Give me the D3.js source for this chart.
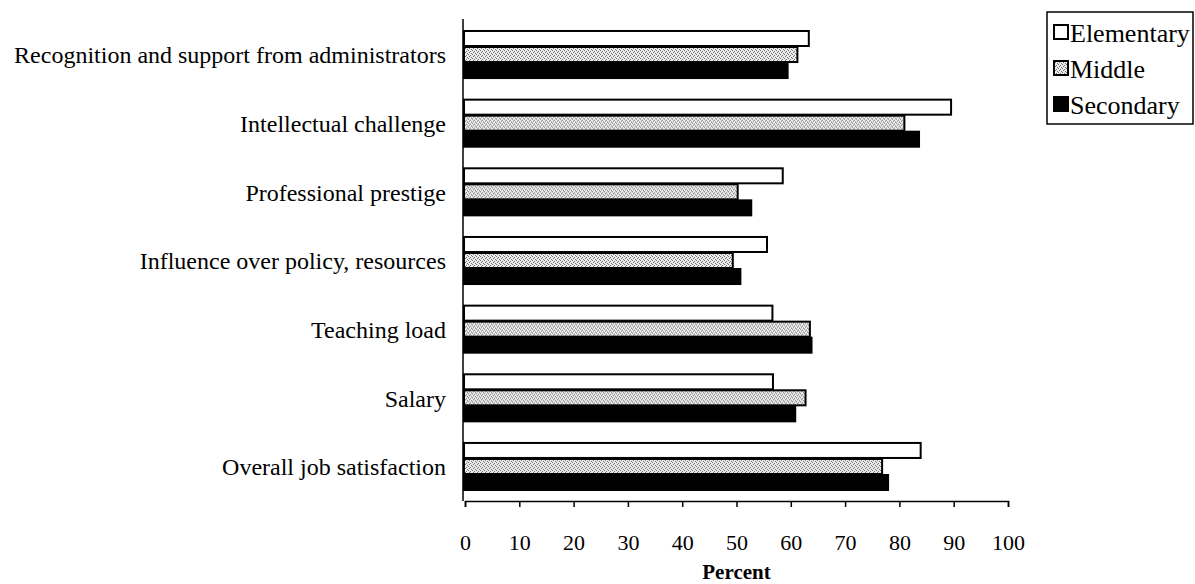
<!DOCTYPE html>
<html>
<head>
<meta charset="utf-8">
<script src="https://cdn.jsdelivr.net/npm/d3@7"></script>
<style>
  body { margin: 0; background: #fff; }
  svg { display: block; font-family: "Liberation Serif", "Times New Roman", serif; }
</style>
</head>
<body>
<div class="chart-area"></div>
<script>
const categories = [
  "Recognition and support from administrators",
  "Intellectual challenge",
  "Professional prestige",
  "Influence over policy, resources",
  "Teaching load",
  "Salary",
  "Overall job satisfaction"
];
const seriesNames = ["Elementary", "Middle", "Secondary"];
const elementary = [63.5, 89.7, 58.7, 55.8, 56.8, 56.9, 84.1];
const middle     = [61.4, 81.1, 50.4, 49.5, 63.7, 62.9, 77.0];
const secondary  = [59.6, 83.8, 52.9, 50.9, 64.0, 61.0, 78.1];
const xTicks = [0, 10, 20, 30, 40, 50, 60, 70, 80, 90, 100];

const values = { Elementary: elementary, Middle: middle, Secondary: secondary };

const width = 1195, height = 584;
const plot = { left: 465, right: 1008, top: 19, bottom: 501 };

const svg = d3.select(".chart-area")
  .append("svg")
  .attr("width", width)
  .attr("height", height);

// stipple pattern for the middle series
const defs = svg.append("defs");
const pat = defs.append("pattern")
  .attr("id", "stipple")
  .attr("patternUnits", "userSpaceOnUse")
  .attr("width", 4)
  .attr("height", 4);
pat.append("rect").attr("width", 4).attr("height", 4).attr("fill", "#ececec");
[[0, 0], [2, 1], [1, 2], [3, 3]].forEach(([px, py]) => {
  pat.append("rect").attr("x", px).attr("y", py).attr("width", 1).attr("height", 1).attr("fill", "#707070");
});

const fills = { Elementary: "#fff", Middle: "url(#stipple)", Secondary: "#000" };

const x = d3.scaleLinear().domain([0, 100]).range([plot.left, plot.right]);

const y = d3.scaleBand()
  .domain(categories)
  .range([plot.top, plot.bottom])
  .paddingInner(0.3)
  .paddingOuter(0.16);

const ySub = d3.scaleBand()
  .domain(seriesNames)
  .range([0, y.bandwidth()]);

// bars
const group = svg.append("g")
  .selectAll("g")
  .data(categories)
  .enter()
  .append("g")
  .attr("transform", (d) => `translate(0,${y(d)})`);

group.selectAll("rect")
  .data((d, i) => seriesNames.map((s) => ({ s, v: values[s][i] })))
  .enter()
  .append("rect")
  .attr("x", x(0) - 1)
  .attr("y", (d) => ySub(d.s) + 1)
  .attr("width", (d) => x(d.v) - x(0))
  .attr("height", ySub.bandwidth() - 1)
  .attr("fill", (d) => fills[d.s])
  .attr("stroke", "#000")
  .attr("stroke-width", 2);

// x axis
const xAxis = svg.append("g")
  .attr("transform", `translate(0,${plot.bottom})`)
  .call(d3.axisBottom(x).tickValues(xTicks).tickSize(6).tickSizeOuter(6));
xAxis.select(".domain").attr("stroke", "#000").attr("stroke-width", 1.5);
xAxis.selectAll(".tick line").attr("stroke", "#000").attr("stroke-width", 1.5);
xAxis.selectAll(".tick text")
  .attr("font-family", "Liberation Serif, serif")
  .attr("font-size", 22)
  .attr("fill", "#000")
  .attr("y", 41)
  .attr("dy", "0.35em");

// y axis line
svg.append("line")
  .attr("x1", plot.left - 2).attr("x2", plot.left - 2)
  .attr("y1", plot.top).attr("y2", plot.bottom)
  .attr("stroke", "#000").attr("stroke-width", 1.5);

// category labels
svg.append("g")
  .selectAll("text")
  .data(categories)
  .enter()
  .append("text")
  .attr("x", 446)
  .attr("y", (d) => y(d) + y.bandwidth() / 2 + 1)
  .attr("dy", "0.35em")
  .attr("text-anchor", "end")
  .attr("font-size", 24)
  .text((d) => d);

// axis title
svg.append("text")
  .attr("x", (plot.left + plot.right) / 2)
  .attr("y", 572)
  .attr("dy", "0.35em")
  .attr("text-anchor", "middle")
  .attr("font-size", 21)
  .attr("font-weight", "bold")
  .text("Percent");

// legend
const legend = svg.append("g").attr("transform", "translate(1047,12)");
legend.append("rect")
  .attr("width", 146).attr("height", 112)
  .attr("fill", "#fff").attr("stroke", "#000").attr("stroke-width", 1.5);
const item = legend.selectAll("g.item")
  .data(seriesNames)
  .enter()
  .append("g")
  .attr("class", "item")
  .attr("transform", (d, i) => `translate(7,${20 + i * 36})`);
item.append("rect")
  .attr("x", 0).attr("y", -7)
  .attr("width", 14).attr("height", 14)
  .attr("fill", (d) => fills[d])
  .attr("stroke", "#000").attr("stroke-width", 2);
item.append("text")
  .attr("x", 16)
  .attr("y", 1)
  .attr("dy", "0.35em")
  .attr("font-size", 26)
  .text((d) => d);
</script>
</body>
</html>
